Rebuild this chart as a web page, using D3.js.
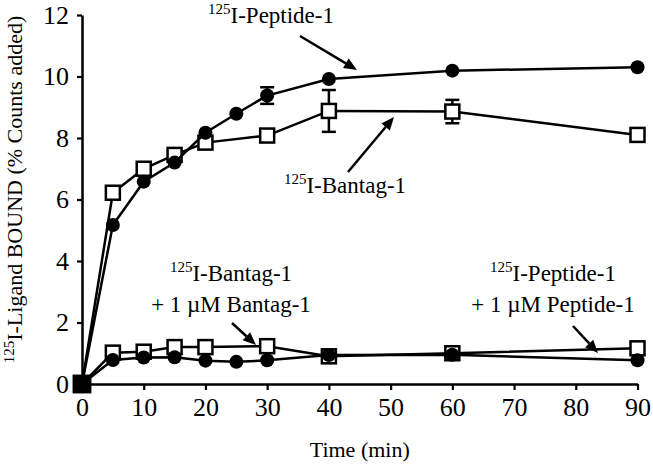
<!DOCTYPE html>
<html><head><meta charset="utf-8">
<script src="https://cdn.jsdelivr.net/npm/d3@7"></script>
<style>body{margin:0;background:#fff}svg{display:block}text{font-family:"Liberation Serif","Times New Roman",serif;fill:#000}</style>
</head><body>
<script>
// ---- data ----
const times = [0, 5, 10, 15, 20, 25, 30, 40, 60, 90];
const peptide1 = [0, 5.17, 6.58, 7.2, 8.17, 8.79, 9.38, 9.92, 10.19, 10.3];
const peptide1Err = [0, 0, 0, 0, 0, 0, 0.27, 0, 0, 0];
const timesB = [0, 5, 10, 15, 20, 30, 40, 60, 90];
const bantag1 = [0, 6.22, 7.0, 7.45, 7.85, 8.08, 8.88, 8.86, 8.1];
const bantag1Err = [0, 0, 0, 0, 0, 0, 0.68, 0.38, 0];
const bantagComp = [0, 1.02, 1.05, 1.2, 1.2, 1.23, 0.9, 1.0, 1.16];
const peptideComp = [0, 0.78, 0.86, 0.87, 0.76, 0.72, 0.77, 0.94, 0.95, 0.77];
const xTicks = [0, 10, 20, 30, 40, 50, 60, 70, 80, 90];
const yTicks = [0, 2, 4, 6, 8, 10, 12];

const W = 653, H = 467;
const svg = d3.select("body").append("svg").attr("width", W).attr("height", H);
const x = d3.scaleLinear().domain([0, 90]).range([82, 637.5]);
const y = d3.scaleLinear().domain([0, 12]).range([384, 15]);

// axes
const xAxis = svg.append("g").attr("transform", `translate(0,${y(0)})`)
  .call(d3.axisBottom(x).tickValues(xTicks).tickSize(6).tickSizeOuter(0).tickPadding(8));
const yAxis = svg.append("g").attr("transform", `translate(${x(0)},0)`)
  .call(d3.axisLeft(y).tickValues(yTicks).tickSize(5).tickSizeOuter(0).tickPadding(8));
[xAxis, yAxis].forEach(g => {
  g.select(".domain").attr("stroke", "#000").attr("stroke-width", 2.5);
  g.selectAll(".tick line").attr("stroke", "#000").attr("stroke-width", 2.2);
  g.selectAll(".tick text").style("font-size", "26px").style("font-family", '"Liberation Serif","Times New Roman",serif');
});
xAxis.selectAll(".tick text").attr("dy", "0.71em");

// axis titles
svg.append("text").attr("x", (x(0) + x(90)) / 2).attr("y", 457).attr("text-anchor", "middle")
  .style("font-size", "22px").text("Time (min)");
const yt = svg.append("text").attr("transform", `translate(22,${(y(0)+y(12))/2 - 10}) rotate(-90)`)
  .attr("text-anchor", "middle").style("font-size", "22px");
yt.append("tspan").attr("font-size", "15px").attr("dy", "-8").text("125");
yt.append("tspan").attr("dy", "8").text("I-Ligand BOUND (% Counts added)");

const line = d3.line().x(d => x(d[0])).y(d => y(d[1]));

function drawSeries(ts, vals, errs, marker) {
  const pts = ts.map((t, i) => [t, vals[i], errs ? errs[i] : 0]);
  svg.append("path").datum(pts).attr("d", line).attr("fill", "none")
    .attr("stroke", "#000").attr("stroke-width", 2.5);
  const eb = pts.filter(p => p[2] > 0);
  eb.forEach(p => {
    const g = svg.append("g").attr("stroke", "#000").attr("stroke-width", 2.5);
    g.append("line").attr("x1", x(p[0])).attr("x2", x(p[0])).attr("y1", y(p[1] - p[2])).attr("y2", y(p[1] + p[2]));
    [p[1] - p[2], p[1] + p[2]].forEach(v => g.append("line")
      .attr("x1", x(p[0]) - 7).attr("x2", x(p[0]) + 7).attr("y1", y(v)).attr("y2", y(v)));
  });
  if (marker === "square") {
    svg.selectAll(null).data(pts).enter().append("rect")
      .attr("x", d => x(d[0]) - (d[1] === 0 ? 8 : 7))
      .attr("y", d => y(d[1]) - (d[1] === 0 ? 8 : 7))
      .attr("width", d => d[1] === 0 ? 16 : 14).attr("height", d => d[1] === 0 ? 16 : 14)
      .attr("fill", d => d[1] === 0 ? "#000" : "#fff").attr("stroke", "#000").attr("stroke-width", 2.5);
  } else {
    svg.selectAll(null).data(pts.filter(d => d[1] !== 0)).enter().append("circle")
      .attr("cx", d => x(d[0])).attr("cy", d => y(d[1])).attr("r", 7).attr("fill", "#000");
  }
}
drawSeries(timesB, bantag1, bantag1Err, "square");
drawSeries(times, peptide1, peptide1Err, "circle");
drawSeries(timesB, bantagComp, null, "square");
drawSeries(times, peptideComp, null, "circle");

// annotations
function label(cx, baseline, lines) {
  lines.forEach((ln, i) => {
    const t = svg.append("text").attr("x", cx).attr("y", baseline + i * 31)
      .attr("text-anchor", "middle").style("font-size", "23px");
    if (ln.sup) {
      t.append("tspan").style("font-size", "15px").attr("dy", "-9").text(ln.sup);
      t.append("tspan").attr("dy", "9").text(ln.text);
    } else t.text(ln.text);
  });
}
function arrow(x1, y1, x2, y2) {
  const ang = Math.atan2(y2 - y1, x2 - x1), L = 13, Wd = 5.5;
  const bx = x2 - L * Math.cos(ang), by = y2 - L * Math.sin(ang);
  svg.append("line").attr("x1", x1).attr("y1", y1).attr("x2", bx).attr("y2", by)
    .attr("stroke", "#000").attr("stroke-width", 2.5);
  svg.append("path").attr("fill", "#000").attr("d",
    `M${x2},${y2}L${bx + Wd * Math.sin(ang)},${by - Wd * Math.cos(ang)}L${bx - Wd * Math.sin(ang)},${by + Wd * Math.cos(ang)}Z`);
}
label(271, 23, [{sup: "125", text: "I-Peptide-1"}]);
arrow(300, 36, 357, 70);
label(345, 193, [{sup: "125", text: "I-Bantag-1"}]);
arrow(348, 172, 394, 117);
label(231, 281, [{sup: "125", text: "I-Bantag-1"}, {text: "+ 1 \u00B5M Bantag-1"}]);
arrow(232, 323, 256, 345);
label(553, 281, [{sup: "125", text: "I-Peptide-1"}, {text: "+ 1 \u00B5M Peptide-1"}]);
arrow(573, 326, 598, 353);
</script>
</body></html>
